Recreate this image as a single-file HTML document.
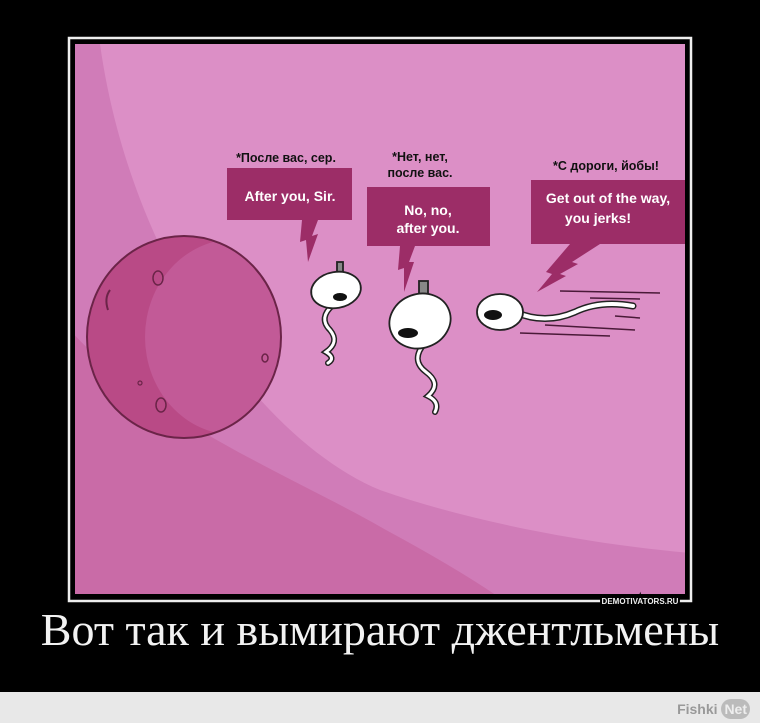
<!DOCTYPE html>
<html><head><meta charset="utf-8"><style>
body{margin:0;width:760px;height:723px;background:#000;position:relative;overflow:hidden;font-family:"Liberation Sans",sans-serif}
.cap{position:absolute;left:0;width:760px;top:603px;text-align:center;color:#f2f2f2;font-family:"Liberation Serif",serif;font-size:46px;white-space:nowrap}
.bot{position:absolute;left:0;top:692px;width:760px;height:31px;background:#e8e8e8}
.fn{position:absolute;right:10px;top:699px;font:bold 14px "Liberation Sans",sans-serif;color:#999}
.fn span{display:inline-block;background:#bbb;color:#eee;border-radius:12px;padding:2px 3px}
</style></head><body>
<svg width="760" height="692" style="position:absolute;left:0;top:0">
<rect x="69" y="38" width="622" height="563" fill="none" stroke="#eee" stroke-width="2.5"/>
<defs><clipPath id="c"><rect x="75" y="44" width="610" height="550"/></clipPath>
<clipPath id="e"><ellipse cx="184" cy="337" rx="97" ry="101"/></clipPath></defs>
<g clip-path="url(#c)">
<rect x="75" y="44" width="610" height="550" fill="#d07cb8"/>
<path d="M100 44 C130 260 260 440 380 490 C480 525 600 545 690 553 L690 40 Z" fill="#dc8fc6"/>
<path d="M70 330 C150 420 300 480 386 530 Q460 570 503 600 L70 600Z" fill="#c96ba7"/>
<ellipse cx="184" cy="337" rx="97" ry="101" fill="#b94a86"/>
<ellipse cx="235" cy="337" rx="90" ry="98" fill="#c25a97" clip-path="url(#e)"/>
<ellipse cx="184" cy="337" rx="97" ry="101" fill="none" stroke="#6b2448" stroke-width="2"/>
<ellipse cx="158" cy="278" rx="5" ry="7" fill="none" stroke="#6b2448" stroke-width="1.5"/>
<ellipse cx="161" cy="405" rx="5" ry="7" fill="none" stroke="#6b2448" stroke-width="1.5"/>
<ellipse cx="265" cy="358" rx="3" ry="4" fill="none" stroke="#6b2448" stroke-width="1.5"/>
<circle cx="140" cy="383" r="2" fill="none" stroke="#6b2448" stroke-width="1.2"/>
<path d="M110 290 Q104 298 108 310" stroke="#6b2448" fill="none" stroke-width="2"/>
<!-- bubbles -->
<rect x="227" y="168" width="125" height="52" fill="#9c2d67"/>
<path d="M302 220 L318 220 L312 236 L318 234 L308 262 L306 240 L300 242Z" fill="#9c2d67"/>
<rect x="367" y="187" width="123" height="59" fill="#9c2d67"/>
<path d="M400 246 L415 246 L409 262 L414 262 L404 292 L404 268 L398 270Z" fill="#9c2d67"/>
<rect x="531" y="180" width="160" height="64" fill="#9c2d67"/>
<path d="M570 244 L600 244 L572 262 L578 264 L560 274 L566 276 L537 292 L552 274 L546 272 L558 258Z" fill="#9c2d67"/>
<g font-family="Liberation Sans,sans-serif" font-weight="bold" font-size="12.5" fill="#111" text-anchor="middle">
<text x="286" y="162">*После вас, сер.</text>
<text x="420" y="161">*Нет, нет,</text><text x="420" y="177">после вас.</text>
<text x="606" y="170">*С дороги, йобы!</text></g>
<g font-family="Liberation Sans,sans-serif" font-weight="bold" font-size="14" fill="#fff" text-anchor="middle">
<text x="290" y="201">After you, Sir.</text>
<text x="428" y="215">No, no,</text><text x="428" y="233">after you.</text>
<text x="608" y="203">Get out of the way,</text><text x="598" y="223">you jerks!</text></g>
<!-- tails -->
<g fill="none" stroke-linecap="round">
<path d="M333 305 Q318 318 330 330 Q340 342 326 352 Q336 358 328 363" stroke="#222" stroke-width="6"/>
<path d="M333 305 Q318 318 330 330 Q340 342 326 352 Q336 358 328 363" stroke="#fff" stroke-width="3"/>
<path d="M425 343 Q410 360 426 372 Q442 384 428 396 Q440 402 435 412" stroke="#222" stroke-width="6"/>
<path d="M425 343 Q410 360 426 372 Q442 384 428 396 Q440 402 435 412" stroke="#fff" stroke-width="3"/>
<path d="M515 312 Q545 325 575 312 Q600 300 633 306" stroke="#222" stroke-width="7"/>
<path d="M515 312 Q545 325 575 312 Q600 300 633 306" stroke="#fff" stroke-width="4"/>
</g>
<g stroke="#222" stroke-width="1.8" fill="#fff">
<rect x="337" y="262" width="6" height="11" fill="#888"/>
<ellipse cx="336" cy="290" rx="25" ry="18" transform="rotate(-10 336 290)"/>
<rect x="419" y="281" width="9" height="13" fill="#888"/>
<ellipse cx="420" cy="321" rx="31" ry="27" transform="rotate(-20 420 321)"/>
<ellipse cx="500" cy="312" rx="23" ry="18"/>
</g>
<g fill="#111"><ellipse cx="340" cy="297" rx="7" ry="4"/><ellipse cx="408" cy="333" rx="10" ry="5"/><ellipse cx="493" cy="315" rx="9" ry="5"/></g>
<g stroke="#4a1a38" stroke-width="1.5"><line x1="560" y1="291" x2="660" y2="293"/><line x1="590" y1="298" x2="640" y2="299"/><line x1="545" y1="325" x2="635" y2="330"/><line x1="520" y1="333" x2="610" y2="336"/><line x1="615" y1="316" x2="640" y2="318"/></g>
</g>
<text x="640" y="604" font-family="Liberation Sans,sans-serif" font-weight="bold" font-size="8" fill="#eee" text-anchor="middle" stroke="#000" stroke-width="4" paint-order="stroke">DEMOTIVATORS.RU</text>
</svg>
<div class="cap">Вот так и вымирают джентльмены</div>
<div class="bot"></div>
<div class="fn">Fishki <span>Net</span></div>
</body></html>
